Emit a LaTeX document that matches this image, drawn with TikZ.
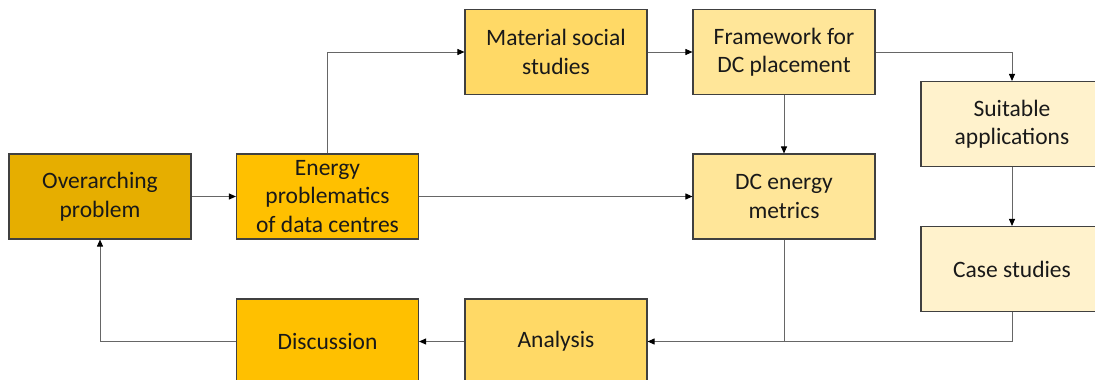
\documentclass[tikz,border=0pt]{standalone}
\usepackage{fontspec}
\setmainfont{Carlito}
\usetikzlibrary{arrows.meta}
\definecolor{goldA}{HTML}{E6AE00}
\definecolor{goldB}{HTML}{FFC000}
\definecolor{goldC}{HTML}{FFD966}
\definecolor{goldD}{HTML}{FFE699}
\definecolor{goldE}{HTML}{FFF2CC}
\definecolor{edge}{HTML}{404040}
\definecolor{wire}{HTML}{666666}
\tikzset{
  box/.style={draw=edge, line width=1.1pt, minimum width=182pt, minimum height=85pt,
    inner sep=2pt, align=center, text=black!90,
    font=\fontsize{23.5}{28.5}\selectfont},
  wireline/.style={draw=wire, line width=0.9pt},
  conn/.style={wireline, -{Stealth[length=7pt,width=6pt,inset=0pt,color=black]}}
}
\begin{document}
\begin{tikzpicture}[x=1pt,y=-1pt]
\useasboundingbox (0,0) rectangle (1095,380);
\clip (0,0) rectangle (1095,380);
% process boxes
\node[box, fill=goldA] (over)     at (100,196.5)   {Overarching\\problem};
\node[box, fill=goldB] (energy)   at (327.5,196.5) {Energy\\problematics\\of data centres};
\node[box, fill=goldC] (material) at (556,52)      {Material social\\studies};
\node[box, fill=goldD] (frame)    at (784,52)      {Framework for\\DC placement};
\node[box, fill=goldD] (metrics)  at (784,196.5)   {DC energy\\metrics};
\node[box, fill=goldE] (suit)     at (1012,124)    {Suitable\\applications};
\node[box, fill=goldE] (case)     at (1012,269)    {Case studies};
\node[box, fill=goldB] (disc)     at (327.5,341.5) {Discussion};
\node[box, fill=goldC] (anal)     at (556,341.5)   {Analysis};
% connectors
\draw[conn] (over) -- (energy);
\draw[conn] (energy.north) |- (material);
\draw[conn] (material) -- (frame);
\draw[conn] (frame) -| (suit);
\draw[conn] (frame) -- (metrics);
\draw[conn] (energy) -- (metrics);
\draw[conn] (suit) -- (case);
\draw[conn] (case.south) |- (anal);
\draw[wireline] (metrics.south) -- (metrics.south |- anal.east);
\draw[conn] (anal) -- (disc);
\draw[conn] (disc) -| (over);
\end{tikzpicture}
\end{document}
